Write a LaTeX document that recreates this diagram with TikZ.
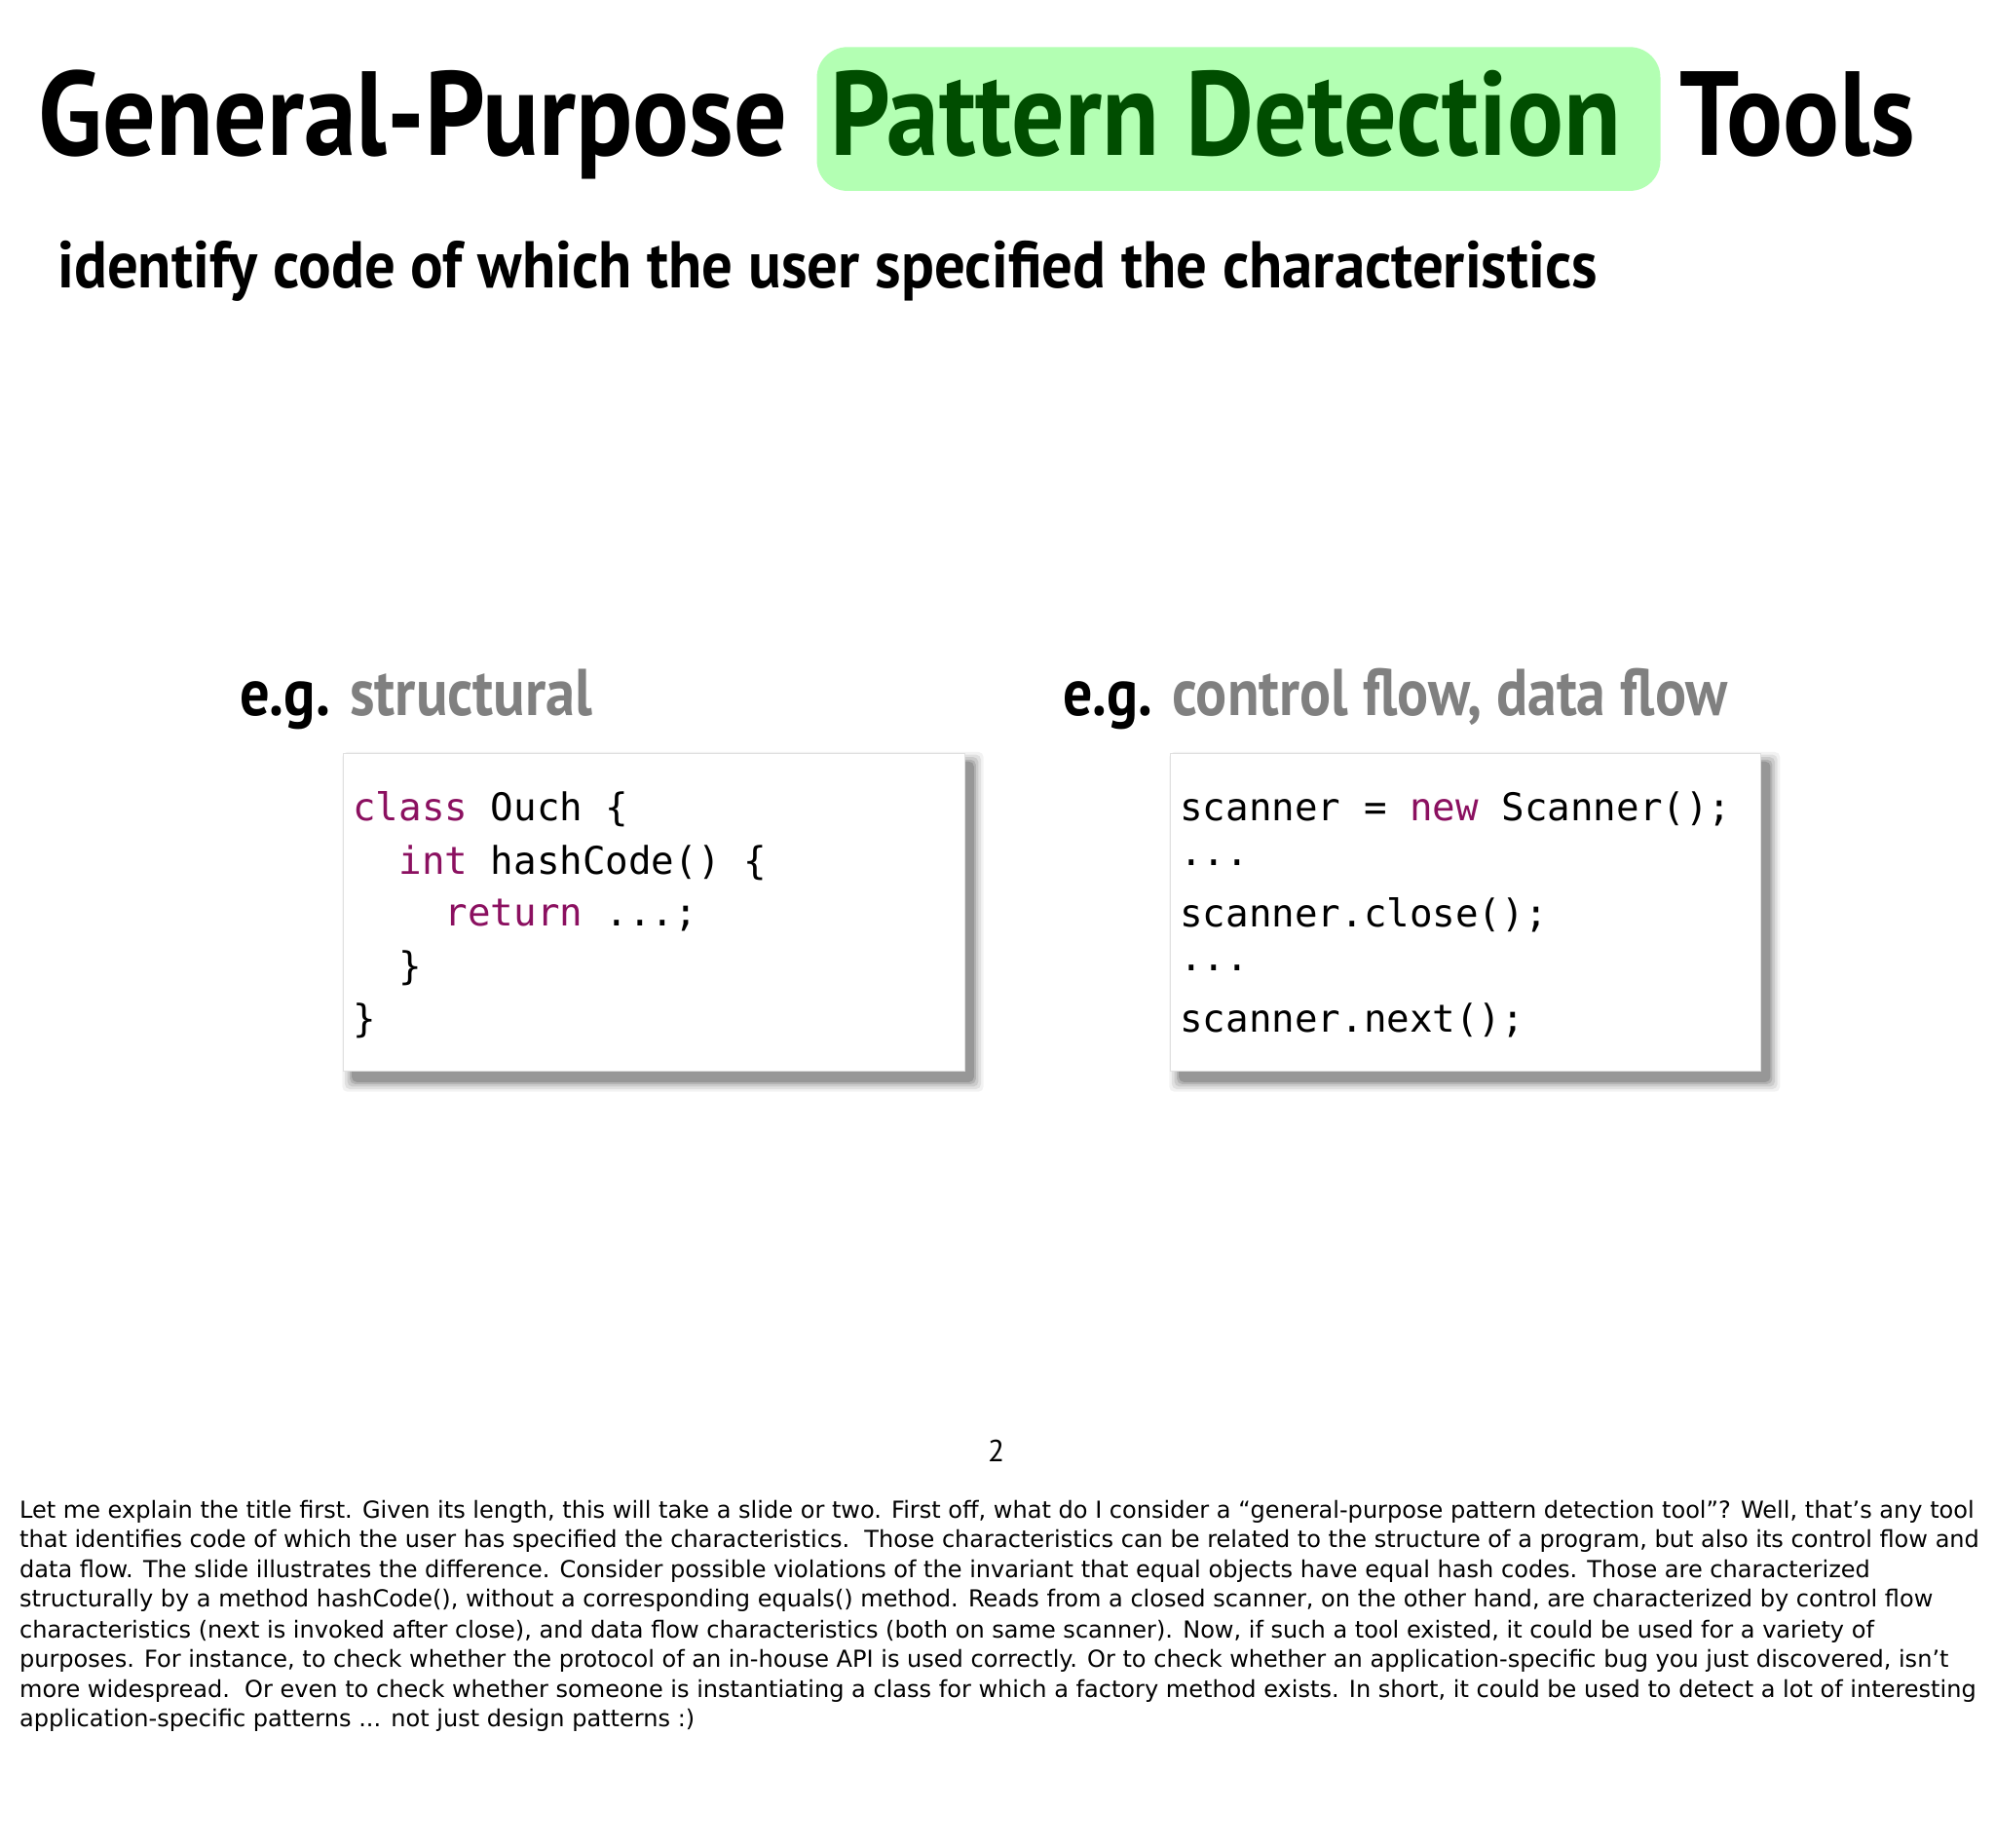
\documentclass[tikz,border=0pt]{standalone}
\usepackage{fontspec}
\setmainfont{PT Sans}
\newfontfamily\notefont{DejaVu Sans}
\newfontfamily\codefont{DejaVu Sans Mono}
\definecolor{hl}{HTML}{B3FFB3}
\definecolor{hltext}{HTML}{004D00}
\definecolor{kw}{HTML}{8B1060}
\definecolor{gr}{HTML}{808080}
\tikzset{
 codeline/.style={anchor=west,inner sep=0,font=\codefont\fontsize{15}{18}\selectfont},
 note/.style={anchor=west,inner sep=0,font=\notefont\fontsize{9.2}{11}\selectfont},
 big/.style={anchor=base west,inner sep=0,font=\bfseries\fontsize{47}{50}\selectfont},
 mid/.style={anchor=base west,inner sep=0,font=\bfseries\fontsize{26}{30}\selectfont},
}
\newcommand{\codebox}[4]{%
 \foreach \s/\o in {9/0.05,7/0.07,5/0.09,3/0.12,1.5/0.15}{
  \fill[black,opacity=\o,rounded corners=2pt] (#1+8-\s,#2+8-\s) rectangle (#3+6+\s,#4+7+\s);}
 \fill[white,draw=black!12] (#1,#2) rectangle (#3,#4);}
\begin{document}
\begin{tikzpicture}[x=0.5pt,y=-0.5pt]
\useasboundingbox (0,0) rectangle (1568,1452);
\fill[white] (0,0) rectangle (1568,1452);
\fill[hl,rounded corners=12pt] (642,37) rectangle (1305,150);
\node[big] (t1) at (30,122) {\scalebox{0.88}[1]{General-Purpose}};
\node[big] (t2) at (652,122) {\scalebox{0.88}[1]{\textcolor{hltext}{Pattern Detection}}};
\node[big] (t3) at (1320,122) {\scalebox{0.88}[1]{Tools}};
\node[mid] (sub) at (45,226) {\scalebox{0.925}[1]{identify code of which the user specified the characteristics}};
\node[mid] (eg1) at (188,562) {\scalebox{0.89}[1]{e.g. \textcolor{gr}{structural}}};
\node[mid] (eg2) at (835,562) {\scalebox{0.88}[1]{e.g. \textcolor{gr}{control flow, data flow}}};
\codebox{270}{592}{758}{842}
\codebox{920}{592}{1384}{842}
\node[codeline] (l1) at (277,636) {\textcolor{kw}{class} Ouch \{};
\node[codeline] (l2) at (277,678) {\ \ \textcolor{kw}{int} hashCode() \{};
\node[codeline] (l3) at (277,719) {\ \ \ \ \textcolor{kw}{return} ...;};
\node[codeline] (l4) at (277,761) {\ \ \}};
\node[codeline] (l5) at (277,802) {\}};
\node[codeline] (r1) at (927,636) {scanner = \textcolor{kw}{new} Scanner();};
\node[codeline] (r2) at (927,678) {...};
\node[codeline] (r3) at (927,719) {scanner.close();};
\node[codeline] (r4) at (927,761) {...};
\node[codeline] (r5) at (927,802) {scanner.next();};
\node[font=\fontsize{12}{14}\selectfont] (pg) at (783,1140) {2};
\node[note] (n1) at (15,1188) {Let me explain the title first. Given its length, this will take a slide or two. First off, what do I consider a “general-purpose pattern detection tool”? Well, that’s any tool};
\node[note] (n2) at (15,1211) {that identifies code of which the user has specified the characteristics.\ \ Those characteristics can be related to the structure of a program, but also its control flow and};
\node[note] (n3) at (15,1235) {data flow. The slide illustrates the difference. Consider possible violations of the invariant that equal objects have equal hash codes. Those are characterized};
\node[note] (n4) at (15,1258) {structurally by a method hashCode(), without a corresponding equals() method. Reads from a closed scanner, on the other hand, are characterized by control flow};
\node[note] (n5) at (15,1282) {characteristics (next is invoked after close), and data flow characteristics (both on same scanner). Now, if such a tool existed, it could be used for a variety of};
\node[note] (n6) at (15,1305) {purposes. For instance, to check whether the protocol of an in-house API is used correctly. Or to check whether an application-specific bug you just discovered, isn’t};
\node[note] (n7) at (15,1329) {more widespread.\ \ Or even to check whether someone is instantiating a class for which a factory method exists. In short, it could be used to detect a lot of interesting};
\node[note] (n8) at (15,1352) {application-specific patterns ... not just design patterns :)};
\end{tikzpicture}
\end{document}
